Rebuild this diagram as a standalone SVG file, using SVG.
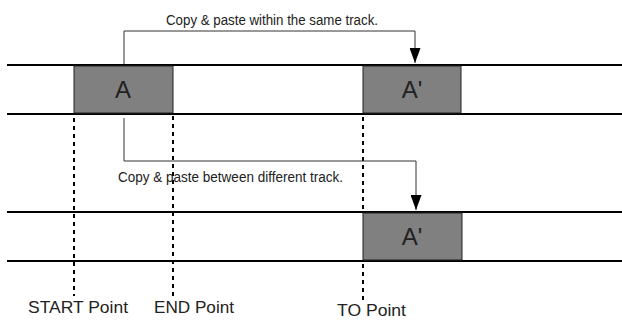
<svg xmlns="http://www.w3.org/2000/svg" width="622" height="320" viewBox="0 0 622 320">
<style>
.track{stroke:#000;stroke-width:2;fill:none}
.clip{fill:#808080;stroke:#222;stroke-width:1}
.clab{font-family:"Liberation Sans",Arial,sans-serif;font-size:24px;fill:#222;text-anchor:middle}
.dash{stroke:#000;stroke-width:2;stroke-dasharray:4,4;fill:none}
.conn{stroke:#333;stroke-width:1;fill:none}
.note{font-family:"Liberation Sans",Arial,sans-serif;font-size:14px;fill:#222}
.pt{font-family:"Liberation Sans",Arial,sans-serif;font-size:17px;fill:#222}
</style>
<defs>
<marker id="ah" markerWidth="15" markerHeight="11" refX="15" refY="5.5" orient="auto" markerUnits="userSpaceOnUse" viewBox="0 0 15 11">
<path d="M0,0 L15,5.5 L0,11 Z" fill="#000"/>
</marker>
</defs>
<g id="tracks">
<line class="track" x1="7" y1="65" x2="622" y2="65"/>
<line class="track" x1="7" y1="114" x2="622" y2="114"/>
<line class="track" x1="7" y1="212" x2="622" y2="212"/>
<line class="track" x1="7" y1="261" x2="622" y2="261"/>
</g>
<g id="guides">
<line class="dash" x1="74" y1="118" x2="74" y2="296"/>
<line class="dash" x1="173" y1="116" x2="173" y2="296"/>
<line class="dash" x1="363" y1="117" x2="363" y2="209"/>
<line class="dash" x1="363" y1="264" x2="363" y2="304"/>
</g>
<g id="clipA">
<rect class="clip" x="74" y="66" width="99" height="47"/>
<text class="clab" x="123" y="98">A</text>
</g>
<g id="clipA1">
<rect class="clip" x="363" y="66" width="98" height="47"/>
<text class="clab" x="412" y="98">A'</text>
</g>
<g id="clipA2">
<rect class="clip" x="363" y="213" width="99" height="47"/>
<text class="clab" x="412" y="245">A'</text>
</g>
<g id="connectors">
<polyline class="conn" points="124,64 124,31 415,31 415,63" marker-end="url(#ah)"/>
<polyline class="conn" points="124,118 124,161 416,161 416,210" marker-end="url(#ah)"/>
</g>
<g id="labels">
<text class="note" x="166" y="25" textLength="212" lengthAdjust="spacingAndGlyphs">Copy &amp; paste within the same track.</text>
<text class="note" x="118" y="182" textLength="225" lengthAdjust="spacingAndGlyphs">Copy &amp; paste between different track.</text>
<text class="pt" x="28" y="313" textLength="100" lengthAdjust="spacingAndGlyphs">START Point</text>
<text class="pt" x="154" y="313" textLength="80" lengthAdjust="spacingAndGlyphs">END Point</text>
<text class="pt" x="337" y="316" textLength="69" lengthAdjust="spacingAndGlyphs">TO Point</text>
</g>
</svg>
